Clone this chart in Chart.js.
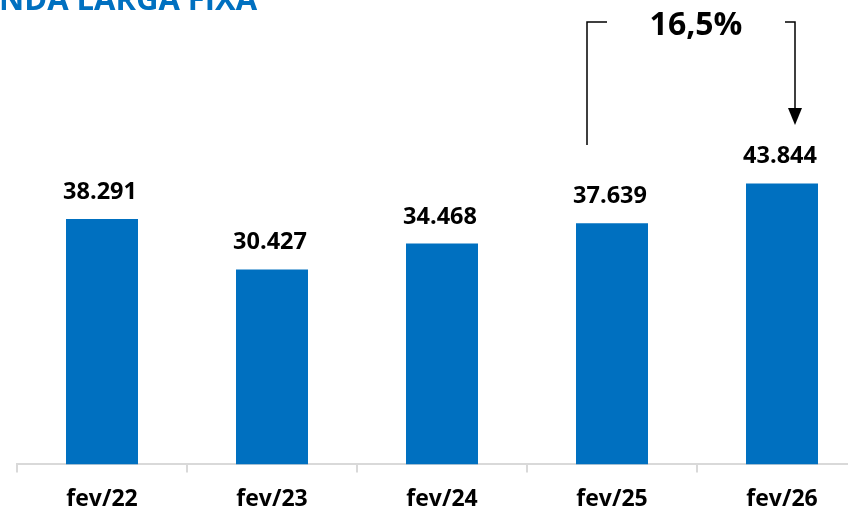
<!DOCTYPE html>
<html>
<head>
<meta charset="utf-8">
<script src="https://cdn.jsdelivr.net/npm/chart.js@4"></script>
<style>
  html, body { margin: 0; padding: 0; background: #fff; overflow: hidden; }
  #wrap { width: 880px; height: 512px; position: relative; overflow: hidden; }
</style>
</head>
<body>
<div id="wrap"><canvas id="bars" width="880" height="526"></canvas></div>
<script>
// data
var categories = ["fev/22", "fev/23", "fev/24", "fev/25", "fev/26"];
var values = [38291, 30427, 34468, 37639, 43844];
var growthLabel = "16,5%";
var titleText = "NDA LARGA FIXA";

var BLUE = "#0070C0";
var FONT = "'Open Sans', sans-serif";

function fmt(v) {
  return v.toString().replace(/\B(?=(\d{3})+(?!\d))/g, ".");
}

// value labels above each bar
var valueLabels = {
  id: "valueLabels",
  afterDatasetsDraw: function(chart) {
    var ctx = chart.ctx;
    var meta = chart.getDatasetMeta(0);
    ctx.save();
    ctx.fillStyle = "#000";
    ctx.font = "bold 23.5px " + FONT;
    ctx.textAlign = "center";
    ctx.textBaseline = "alphabetic";
    meta.data.forEach(function(bar, i) {
      ctx.fillText(fmt(values[i]), bar.x - 2, bar.y - 20);
    });
    ctx.restore();
  }
};

// title + growth bracket between last two bars
var extras = {
  id: "extras",
  afterDraw: function(chart) {
    var ctx = chart.ctx;
    var meta = chart.getDatasetMeta(0);
    var b4 = meta.data[3], b5 = meta.data[4];
    ctx.save();
    ctx.fillStyle = BLUE;
    ctx.font = "bold 31px " + FONT;
    ctx.textAlign = "left";
    ctx.textBaseline = "alphabetic";
    ctx.fillText(titleText, -1, 10);

    var lx = b4.x - 25, rx = b5.x + 13, ty = 22;
    ctx.strokeStyle = "#000";
    ctx.lineWidth = 1.5;
    ctx.beginPath();
    ctx.moveTo(lx, 145);
    ctx.lineTo(lx, ty);
    ctx.lineTo(lx + 20, ty);
    ctx.moveTo(rx - 10, ty);
    ctx.lineTo(rx, ty);
    ctx.lineTo(rx, 110);
    ctx.stroke();
    ctx.fillStyle = "#000";
    ctx.beginPath();
    ctx.moveTo(rx - 7, 108);
    ctx.lineTo(rx + 7, 108);
    ctx.lineTo(rx, 125);
    ctx.closePath();
    ctx.fill();

    ctx.font = "bold 32px " + FONT;
    ctx.textAlign = "center";
    ctx.fillText(growthLabel, (lx + rx) / 2 + 5, 35);
    ctx.restore();
  }
};

new Chart(document.getElementById("bars").getContext("2d"), {
  type: "bar",
  data: {
    labels: categories,
    datasets: [{
      data: values,
      backgroundColor: BLUE,
      borderWidth: 0,
      categoryPercentage: 1,
      barPercentage: 0.4235
    }]
  },
  options: {
    responsive: false,
    animation: false,
    layout: { padding: { left: 17, right: 13, top: 144, bottom: 0 } },
    plugins: { legend: { display: false }, tooltip: { enabled: false } },
    scales: {
      y: { display: false, min: 0, max: 50000 },
      x: {
        grid: { drawOnChartArea: false, color: "#d9d9d9", tickLength: 8, lineWidth: 2 },
        border: { color: "#d9d9d9", width: 2 },
        ticks: { color: "#000", font: { family: FONT, size: 23, weight: "bold" }, padding: 13 }
      }
    }
  },
  plugins: [valueLabels, extras]
});
</script>
</body>
</html>
